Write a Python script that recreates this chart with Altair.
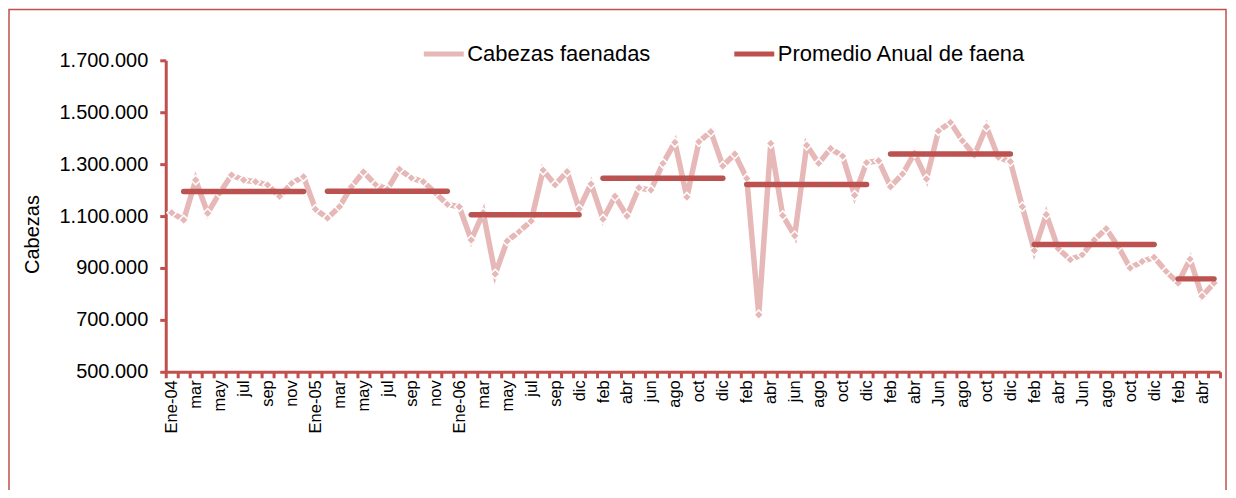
import altair as alt
import pandas as pd
import json

# ---- data ----
anios = [2004, 2005, 2006, 2007, 2008, 2009, 2010, 2011]
meses_2004 = ["Ene-04", "feb", "mar", "abr", "may", "jun", "jul", "ago", "sep", "oct", "nov", "dic"]
meses_2005 = ["Ene-05", "feb", "mar", "abr", "may", "jun", "jul", "ago", "sep", "oct", "nov", "dic"]
meses_2006 = ["Ene-06", "feb", "mar", "abr", "may", "jun", "jul", "ago", "sep", "oct", "dic"]
meses_2007 = ["Ene-07", "feb", "mar", "abr", "may", "jun", "jul", "ago", "sep", "oct", "nov", "dic"]
meses_2008 = ["Ene-08", "feb", "mar", "abr", "may", "jun", "jul", "ago", "sep", "oct", "nov", "dic"]
meses_2009 = ["Ene-09", "feb", "mar", "abr", "may", "Jun", "jul", "ago", "sep", "oct", "nov", "dic"]
meses_2010 = ["Ene-10", "feb", "mar", "abr", "may", "Jun", "jul", "ago", "sep", "oct", "nov", "dic"]
meses_2011 = ["Ene-11", "feb", "mar", "abr", "may"]

cabezas_2004 = [1113000, 1085000, 1239000, 1111000, 1189000, 1258000, 1239000, 1232000, 1220000, 1176000, 1226000, 1252000]
cabezas_2005 = [1126000, 1092000, 1136000, 1213000, 1270000, 1222000, 1203000, 1280000, 1247000, 1232000, 1190000, 1145000]
cabezas_2006 = [1136000, 1008000, 1113000, 877000, 1004000, 1040000, 1081000, 1277000, 1220000, 1271000, 1127000]
cabezas_2007 = [1224000, 1088000, 1176000, 1100000, 1209000, 1200000, 1303000, 1384000, 1173000, 1386000, 1425000, 1293000]
cabezas_2008 = [1339000, 1245000, 720000, 1380000, 1102000, 1024000, 1373000, 1303000, 1360000, 1331000, 1180000, 1306000]
cabezas_2009 = [1313000, 1213000, 1262000, 1342000, 1243000, 1428000, 1461000, 1390000, 1335000, 1444000, 1326000, 1310000]
cabezas_2010 = [1136000, 967000, 1106000, 974000, 932000, 951000, 1008000, 1051000, 983000, 900000, 925000, 941000]
cabezas_2011 = [887000, 842000, 934000, 791000, 842000]

promedio_anual = [1195000, 1196000, 1105000, 1246000, 1222000, 1339000, 990000, 858000]

y_ticks = [500000, 700000, 900000, 1100000, 1300000, 1500000, 1700000]

serie_1 = "Cabezas faenadas"
serie_2 = "Promedio Anual de faena"

meses = [meses_2004, meses_2005, meses_2006, meses_2007, meses_2008, meses_2009, meses_2010, meses_2011]
cabezas = [cabezas_2004, cabezas_2005, cabezas_2006, cabezas_2007, cabezas_2008, cabezas_2009, cabezas_2010, cabezas_2011]

rows, avg_rows, nombres = [], [], []
i = 0
for anio, ms, vals, prom in zip(anios, meses, cabezas, promedio_anual):
    for j, (m, v) in enumerate(zip(ms, vals)):
        nombres.append(m)
        rows.append({"pos": i + 0.5, "valor": v, "serie": serie_1})
        if j >= 1:
            avg_rows.append({"pos": i + 0.5, "valor": prom, "anio": anio, "serie": serie_2})
        i += 1
n_cat = len(nombres)

df = pd.DataFrame(rows)
df_avg = pd.DataFrame(avg_rows)

AXIS_RED = "#C0504D"
PINK = "#E6B9B8"
FONT = "Liberation Sans"

W, H = 1056, 312
band = W / n_cat

label_expr = (
    f"(datum.value < {n_cat} && datum.value % 2 == 0) ? "
    f"{json.dumps(nombres)}[datum.value] : ''"
)

x_enc = alt.X(
    "pos:Q",
    scale=alt.Scale(domain=[0, n_cat], nice=False, zero=False),
    axis=alt.Axis(
        title=None,
        values=list(range(n_cat + 1)),
        labelAngle=-90,
        labelAlign="right",
        labelBaseline="middle",
        labelExpr=label_expr,
        labelOffset=band / 2,
        labelOverlap=False,
        labelBound=False,
        labelFlush=False,
        labelFontSize=16.5,
        labelPadding=2,
    ),
)
y_enc = alt.Y(
    "valor:Q",
    scale=alt.Scale(domain=[500000, 1700000], nice=False, zero=False),
    axis=alt.Axis(
        values=y_ticks,
        format=",d",
        title="Cabezas",
        titleFontSize=20,
        titleFontWeight="normal",
        titlePadding=16,
        titleY=174,
        labelFontSize=20,
        labelPadding=12,
    ),
)

color_enc = alt.Color(
    "serie:N",
    scale=alt.Scale(domain=[serie_1, serie_2], range=[PINK, AXIS_RED]),
    legend=alt.Legend(
        title=None,
        orient="none",
        direction="horizontal",
        legendX=256,
        legendY=-29,
        symbolType="stroke",
        symbolSize=1600,
        symbolStrokeWidth=5,
        labelFontSize=22,
        labelOffset=1,
        labelLimit=0,
        columnPadding=73,
        padding=0,
    ),
)

base = alt.Chart(df)
linea = base.mark_line(strokeWidth=5.5).encode(x=x_enc, y=y_enc, color=color_enc)
puntos = base.mark_point(shape="diamond", filled=True, fill=PINK, stroke="white",
                         strokeWidth=1.5, opacity=1, size=90).encode(x=x_enc, y=y_enc)

base_avg = alt.Chart(df_avg)
linea_avg = base_avg.mark_line(strokeWidth=5.5, strokeCap="round").encode(
    x=x_enc, y=y_enc, color=color_enc, detail="anio:N")
puntos_avg = base_avg.mark_circle(color="#8C6A6A", size=6, opacity=1).encode(x=x_enc, y=y_enc)

marco = alt.Chart(pd.DataFrame({"marco": [0]})).mark_rect(
    fill="transparent", stroke=AXIS_RED, strokeWidth=1.5
).encode(x=alt.value(-157), x2=alt.value(1062), y=alt.value(-51), y2=alt.value(440))

chart = alt.layer(marco, linea, puntos, linea_avg, puntos_avg).properties(
    width=W,
    height=H,
    autosize=alt.AutoSizeParams(type="none"),
    padding={"left": 158, "top": 52, "right": 8, "bottom": 118},
).configure(
    font=FONT,
    locale=alt.Locale(number=alt.NumberLocale(decimal=",", thousands=".", grouping=[3], currency=["$", ""])),
).configure_view(stroke=None).configure_axis(
    domainColor=AXIS_RED,
    domainWidth=3,
    tickColor=AXIS_RED,
    tickWidth=3,
    tickSize=6,
    labelColor="black",
    titleColor="black",
    labelFont=FONT,
    titleFont=FONT,
    grid=False,
).configure_legend(labelFont=FONT, labelColor="black")

chart.save("out.html", embed_options={"renderer": "svg", "actions": False})
